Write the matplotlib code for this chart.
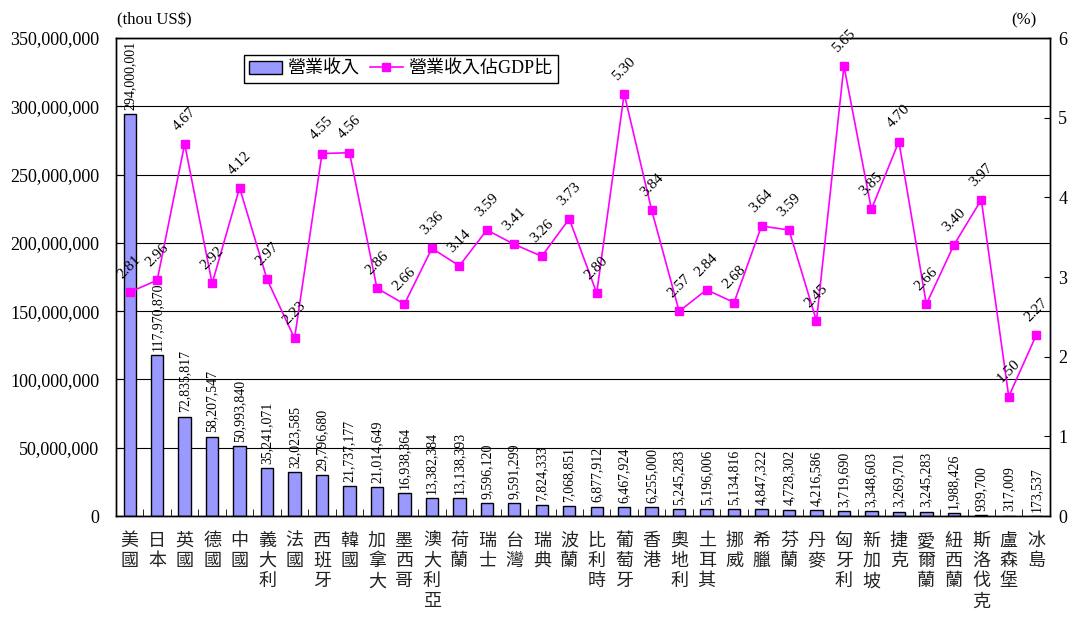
import matplotlib
matplotlib.use("Agg")
import matplotlib.pyplot as plt
from matplotlib.ticker import FuncFormatter, MultipleLocator
import numpy as np

plt.rcParams['font.family'] = ['Liberation Serif', 'Noto Sans CJK TC']

countries = ["美國", "日本", "英國", "德國", "中國", "義大利", "法國", "西班牙",
             "韓國", "加拿大", "墨西哥", "澳大利亞", "荷蘭", "瑞士", "台灣", "瑞典",
             "波蘭", "比利時", "葡萄牙", "香港", "奧地利", "土耳其", "挪威", "希臘",
             "芬蘭", "丹麥", "匈牙利", "新加坡", "捷克", "愛爾蘭", "紐西蘭", "斯洛伐克",
             "盧森堡", "冰島"]
revenue = [294000001, 117970870, 72835817, 58207547, 50993840, 35241071,
           32023585, 29796680, 21737177, 21014649, 16938364, 13382384,
           13138393, 9596120, 9591299, 7824333, 7068851, 6877912, 6467924,
           6255000, 5245283, 5196006, 5134816, 4847322, 4728302, 4216586,
           3719690, 3348603, 3269701, 3245283, 1988426, 939700, 317009, 173537]
gdp_ratio = [2.81, 2.96, 4.67, 2.92, 4.12, 2.97, 2.23, 4.55, 4.56, 2.86, 2.66,
             3.36, 3.14, 3.59, 3.41, 3.26, 3.73, 2.80, 5.30, 3.84, 2.57, 2.84,
             2.68, 3.64, 3.59, 2.45, 5.65, 3.85, 4.70, 2.66, 3.40, 3.97, 1.50, 2.27]

x = np.arange(len(countries))

fig = plt.figure(figsize=(10.76, 6.2), dpi=100)
ax1 = fig.add_axes([0.1078, 0.1677, 0.8680, 0.7710])

bars = ax1.bar(x, revenue, width=0.45, color='#9999FF', edgecolor='black',
               linewidth=1.0, zorder=2, label='營業收入')
for xi, v in zip(x, revenue):
    ax1.annotate(f"{v:,}", (xi, v), xytext=(0, 3), textcoords='offset points',
                 rotation=90, ha='center', va='bottom', fontsize=10, zorder=3)

ax1.set_xlim(-0.5, len(countries) - 0.5)
ax1.set_ylim(0, 350e6)
ax1.yaxis.set_major_locator(MultipleLocator(50e6))
ax1.yaxis.set_major_formatter(FuncFormatter(lambda v, p: f"{v:,.0f}"))
ax1.yaxis.grid(True, color='black', linewidth=0.8)
ax1.set_axisbelow(True)
ax1.tick_params(axis='y', direction='in', length=4, labelsize=13, pad=12)

ax1.set_xticks(x)
ax1.set_xticklabels(["\n".join(c) for c in countries], fontsize=13,
                    linespacing=1.25, va='top', color='#222222')
ax1.set_xticks(x[:-1] + 0.5, minor=True)
ax1.tick_params(axis='x', which='major', length=0, pad=12)
ax1.tick_params(axis='x', which='minor', direction='in', length=5)

ax2 = ax1.twinx()
line, = ax2.plot(x, gdp_ratio, color='#FF00FF', marker='s', markersize=6,
                 linewidth=1.2, label='營業收入佔GDP比')
for xi, r in zip(x, gdp_ratio):
    ax2.annotate(f"{r:.2f}", (xi, r), xytext=(0, 8), textcoords='offset points',
                 rotation=45, ha='center', va='bottom', fontsize=11)
ax2.set_ylim(0, 6)
ax2.yaxis.set_major_locator(MultipleLocator(1))
ax2.tick_params(axis='y', direction='in', length=4, labelsize=13, pad=6)

for ax in (ax1, ax2):
    for s in ax.spines.values():
        s.set_linewidth(1.0)

leg = ax2.legend([bars, line], ['營業收入', '營業收入佔GDP比'], loc='upper left',
                 bbox_to_anchor=(0.137, 0.964), ncol=2, fontsize=13,
                 frameon=True, fancybox=False, edgecolor='black', framealpha=1,
                 borderaxespad=0, borderpad=0.3, handlelength=1.8,
                 handletextpad=0.3, columnspacing=0.6)
leg.get_frame().set_linewidth(1.0)

fig.text(117 / 1076, 1 - 20 / 620, "(thou US$)", ha='left', va='center', fontsize=12)
fig.text(1024 / 1076, 1 - 20 / 620, "(%)", ha='center', va='center', fontsize=12)

fig.savefig("out.png", dpi=100)
